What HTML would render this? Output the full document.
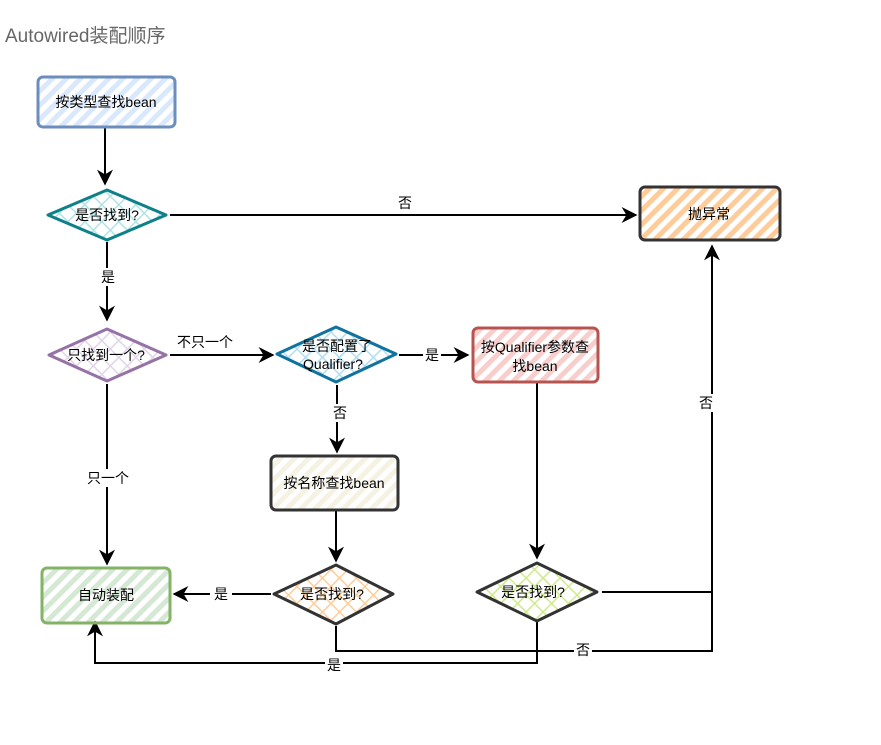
<!DOCTYPE html>
<html><head><meta charset="utf-8"><style>
body{margin:0;background:#fff;width:881px;height:740px;overflow:hidden}
svg text{font-family:"Liberation Sans","Noto Sans CJK SC",sans-serif;font-size:14px;fill:#000}
</style></head><body>
<svg width="881" height="740" viewBox="0 0 881 740" xmlns="http://www.w3.org/2000/svg">
<defs>
<pattern id="hb" width="10" height="10" patternUnits="userSpaceOnUse" patternTransform="rotate(45)"><rect width="5" height="10" fill="#dae8fc"/></pattern>
<pattern id="ho" width="10" height="10" patternUnits="userSpaceOnUse" patternTransform="rotate(45)"><rect width="5" height="10" fill="#ffcc99"/></pattern>
<pattern id="hr" width="10" height="10" patternUnits="userSpaceOnUse" patternTransform="rotate(45)"><rect width="5" height="10" fill="#f8cecc"/></pattern>
<pattern id="hy" width="10" height="10" patternUnits="userSpaceOnUse" patternTransform="rotate(45)"><rect width="5" height="10" fill="#f5f2e3"/></pattern>
<pattern id="hg" width="10" height="10" patternUnits="userSpaceOnUse" patternTransform="rotate(45)"><rect width="5" height="10" fill="#d5e8d4"/></pattern>
<pattern id="xt" width="12" height="12" patternUnits="userSpaceOnUse" patternTransform="rotate(45)"><path d="M0 0V12M0 0H12" stroke="#b0e3e6" stroke-width="3"/></pattern>
<pattern id="xp" width="12" height="12" patternUnits="userSpaceOnUse" patternTransform="rotate(45)"><path d="M0 0V12M0 0H12" stroke="#e1d5e7" stroke-width="3"/></pattern>
<pattern id="xb" width="12" height="12" patternUnits="userSpaceOnUse" patternTransform="rotate(45)"><path d="M0 0V12M0 0H12" stroke="#b1ddf0" stroke-width="3"/></pattern>
<pattern id="xo" width="12" height="12" patternUnits="userSpaceOnUse" patternTransform="rotate(45)"><path d="M0 0V12M0 0H12" stroke="#ffcc99" stroke-width="3"/></pattern>
<pattern id="xg" width="12" height="12" patternUnits="userSpaceOnUse" patternTransform="rotate(45)"><path d="M0 0V12M0 0H12" stroke="#cdeb8b" stroke-width="3"/></pattern>
<marker id="a" viewBox="0 0 10 10" refX="9" refY="5" markerWidth="8" markerHeight="8" orient="auto"><path d="M0 0L10 5L0 10L3 5z" fill="#000"/></marker>
</defs>
<text x="5" y="42" style="font-size:19px;fill:#666">Autowired装配顺序</text>

<g fill="none" stroke="#000" stroke-width="2">
<path d="M105 128V184" marker-end="url(#a)"/>
<path d="M170 215H636" marker-end="url(#a)"/>
<path d="M107 242V320" marker-end="url(#a)"/>
<path d="M170 355H273" marker-end="url(#a)"/>
<path d="M399 355H468" marker-end="url(#a)"/>
<path d="M337 385V452" marker-end="url(#a)"/>
<path d="M336 511V561" marker-end="url(#a)"/>
<path d="M537 383V558" marker-end="url(#a)"/>
<path d="M107 384V564" marker-end="url(#a)"/>
<path d="M271 594H174" marker-end="url(#a)"/>
<path d="M602 592H712V246" marker-end="url(#a)"/>
<path d="M336 626V651H712V592"/>
<path d="M537 622V663H95V622" marker-end="url(#a)"/>
</g>

<g stroke-width="3">
<rect x="38" y="77" width="137" height="50" rx="5" fill="url(#hb)" stroke="#6c8ebf"/>
<rect x="640" y="187" width="140" height="53" rx="5" fill="url(#ho)" stroke="#333"/>
<rect x="473" y="328" width="125" height="54" rx="5" fill="url(#hr)" stroke="#b85450"/>
<rect x="271" y="456" width="127" height="54" rx="5" fill="url(#hy)" stroke="#333"/>
<rect x="42" y="568" width="128" height="55" rx="5" fill="url(#hg)" stroke="#82b366"/>
<path d="M48 215L107 190L166 215L107 240Z" fill="url(#xt)" stroke="#0e8088" stroke-linejoin="round"/>
<path d="M49 355L107 329L166 355L107 381Z" fill="url(#xp)" stroke="#9673a6" stroke-linejoin="round"/>
<path d="M277 354L336 327L396 354L336 382Z" fill="url(#xb)" stroke="#10739e" stroke-linejoin="round"/>
<path d="M274 594L336 565L393 594L336 624Z" fill="url(#xo)" stroke="#333" stroke-linejoin="round"/>
<path d="M477 592L537 563L597 592L537 621Z" fill="url(#xg)" stroke="#333" stroke-linejoin="round"/>
</g>

<g text-anchor="middle">
<text x="106" y="107">按类型查找bean</text>
<text x="709" y="219">抛异常</text>
<text x="535" y="352">按Qualifier参数查</text>
<text x="535" y="371">找bean</text>
<text x="334" y="488">按名称查找bean</text>
<text x="106" y="600">自动装配</text>
<text x="107" y="220">是否找到?</text>
<text x="106" y="360">只找到一个?</text>
<text x="337" y="351">是否配置了</text>
<text x="333" y="369">Qualifier?</text>
<text x="332" y="599">是否找到?</text>
<text x="533" y="597">是否找到?</text>
</g>
<g text-anchor="middle" style="font-size:13px">
<rect x="96" y="268" width="22" height="18" fill="#fff"/><text x="108" y="282">是</text>
<text x="405" y="208">否</text>
<text x="205" y="347">不只一个</text>
<rect x="423" y="346" width="18" height="18" fill="#fff"/><text x="432" y="360">是</text>
<rect x="330" y="404" width="18" height="18" fill="#fff"/><text x="340" y="418">否</text>
<rect x="84" y="469" width="48" height="18" fill="#fff"/><text x="108" y="483">只一个</text>
<rect x="210" y="585" width="22" height="18" fill="#fff"/><text x="221" y="599">是</text>
<rect x="697" y="394" width="18" height="18" fill="#fff"/><text x="706" y="408">否</text>
<rect x="574" y="642" width="18" height="18" fill="#fff"/><text x="583" y="655">否</text>
<rect x="325" y="656" width="18" height="18" fill="#fff"/><text x="334" y="670">是</text>
</g>
</svg>
</body></html>
